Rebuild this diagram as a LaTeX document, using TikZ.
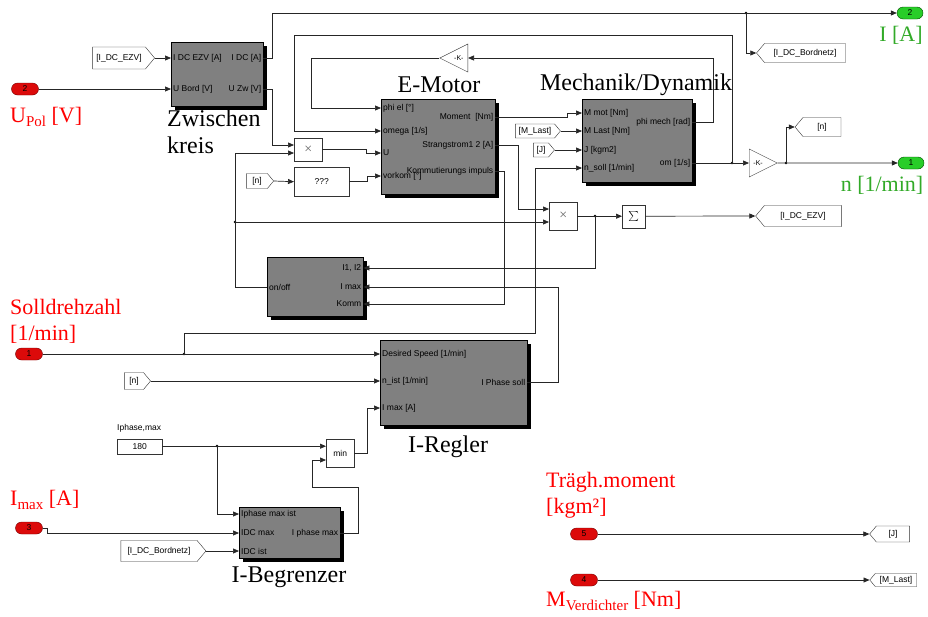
\documentclass[tikz,border=0pt]{standalone}
\usepackage{fontspec}
\setmainfont{Liberation Serif}
\newfontfamily\simfont{Liberation Sans}
\usetikzlibrary{positioning, arrows.meta, calc, shapes.misc, shapes.symbols, shapes.geometric, shadows}
\definecolor{blkgray}{RGB}{128,128,128}
\definecolor{inred}{RGB}{220,10,10}
\definecolor{outgreen}{RGB}{40,205,40}
\definecolor{lblred}{RGB}{255,0,0}
\definecolor{lblgreen}{RGB}{50,170,40}
\newcommand\portL[4]{\node[portin] (#1) at (#2.west |- 0,#3) {#4};}
\newcommand\portR[4]{\node[portout] (#1) at (#2.east |- 0,#3) {#4};}
\newcommand\lowtxt[1]{\raisebox{-0.22em}{\fontsize{15}{15}\selectfont #1}}

\begin{document}
\begin{tikzpicture}[x=1pt, y=-1pt,
  every node/.style={font=\simfont\fontsize{8.5}{9}\selectfont},
  blk/.style={draw=black, fill=blkgray, anchor=north west, inner sep=0pt,
    drop shadow={shadow xshift=4pt, shadow yshift=-4pt, fill=black, opacity=1}},
  smallbox/.style={draw=black!80, fill=white, anchor=north west, inner sep=0pt},
  mulbox/.style={smallbox, text=black!60, font=\fontsize{14}{14}\selectfont},
  inp/.style={rounded rectangle, draw=red!45!black, fill=inred, minimum width=27pt, minimum height=12pt, inner sep=0pt},
  outp/.style={rounded rectangle, draw=green!30!black, fill=outgreen, minimum width=26pt, minimum height=12pt, inner sep=0pt},
  fromtag/.style={signal, signal to=east, signal pointer angle=100, draw=black!80, fill=white, inner sep=1pt},
  gototag/.style={signal, signal to=west, signal pointer angle=100, draw=black!80, fill=white, inner sep=1pt},
  gain/.style={isosceles triangle, isosceles triangle stretches, draw=black!80, fill=white, inner sep=0pt,
    minimum width=28pt, minimum height=28pt, font=\simfont\fontsize{7}{7}\selectfont},
  portin/.style={anchor=west, inner xsep=2pt, inner ysep=0pt},
  portout/.style={anchor=east, inner xsep=2pt, inner ysep=0pt},
  wire/.style={draw=black!85, line width=0.7pt, -{Triangle[length=6pt,width=5pt]}},
  dot/.style={circle, fill=black, inner sep=0pt, minimum size=2.6pt},
  big/.style={font=\fontsize{24}{27}\selectfont, inner sep=0pt},
  redlbl/.style={font=\fontsize{22}{26}\selectfont, text=lblred, inner sep=0pt, anchor=west, align=left},
  greenlbl/.style={font=\fontsize{22}{26}\selectfont, text=lblgreen, inner sep=0pt}
]
\useasboundingbox (0,0) rectangle (928,616);

\node[blk, minimum width=92pt, minimum height=64pt] (zk) at (171,42) {};
\portL{zk-a}{zk}{58}{I DC EZV [A]}
\portL{zk-b}{zk}{89}{U Bord [V]}
\portR{zk-c}{zk}{58}{I DC [A]}
\portR{zk-d}{zk}{89}{U Zw [V]}

\node[blk, minimum width=114pt, minimum height=95pt] (em) at (381,99) {};
\portL{em-a}{em}{108}{phi el [°]}
\portL{em-b}{em}{131}{omega [1/s]}
\portL{em-c}{em}{153}{U}
\portL{em-d}{em}{176}{vorkom [°]}
\portR{em-p}{em}{117}{Moment~~[Nm]}
\portR{em-q}{em}{145}{Strangstrom1 2 [A]}
\portR{em-r}{em}{171}{Kommutierungs impuls}

\node[blk, minimum width=110pt, minimum height=83pt] (mm) at (582,99) {};
\portL{mm-a}{mm}{113}{M mot [Nm]}
\portL{mm-b}{mm}{131}{M Last [Nm]}
\portL{mm-c}{mm}{150}{J [kgm2]}
\portL{mm-d}{mm}{168}{n\_soll [1/min]}
\portR{mm-p}{mm}{122}{phi mech [rad]}
\portR{mm-q}{mm}{163}{om [1/s]}

\node[blk, minimum width=96pt, minimum height=59pt] (oo) at (267,257) {};
\portR{oo-a}{oo}{268}{I1, I2}
\portR{oo-b}{oo}{287}{I max}
\portR{oo-c}{oo}{304}{Komm}
\portL{oo-o}{oo}{287}{on/off}

\node[blk, minimum width=147pt, minimum height=85pt] (ir) at (380,340) {};
\portL{ir-a}{ir}{354}{Desired Speed [1/min]}
\portL{ir-b}{ir}{381}{n\_ist [1/min]}
\portL{ir-c}{ir}{408}{I max [A]}
\portR{ir-o}{ir}{382}{I Phase soll}

\node[blk, minimum width=101pt, minimum height=51pt] (ib) at (239,507) {};
\portL{ib-a}{ib}{514}{Iphase max ist}
\portL{ib-b}{ib}{533}{IDC max}
\portL{ib-c}{ib}{551}{IDC ist}
\portR{ib-o}{ib}{533}{I phase max}

\node[mulbox, minimum width=28pt, minimum height=23pt] (mul1) at (294,138) {×};
\node[smallbox, minimum width=55pt, minimum height=29pt] (qqq) at (294,167) {???};
\node[mulbox, minimum width=28pt, minimum height=28pt] (mul2) at (549,202) {×};
\node[smallbox, minimum width=23pt, minimum height=23pt, font=\fontsize{12}{12}\selectfont] (sum) at (622,204.5) {$\sum$};
\node[smallbox, minimum width=28pt, minimum height=28pt] (mn) at (326,439) {min};
\node[smallbox, minimum width=45pt, minimum height=15pt] (c180) at (117,438.5) {180};
\node[anchor=west, inner sep=0pt] (c180lbl) at (117,428) {Iphase,max};

\node[gain, shape border rotate=180, anchor=east] (k1) at (468,58) {-K-};
\node[gain, anchor=west] (k2) at (749,163) {-K-};

\node[inp] (in1) at (29,354) {1};
\node[inp] (in2) at (25,89) {2};
\node[inp] (in3) at (29,528) {3};
\node[inp] (in4) at (584,580) {4};
\node[inp] (in5) at (584,534) {5};
\node[outp] (out1) at (911,163) {1};
\node[outp] (out2) at (910,13) {2};

\node[fromtag, minimum width=62pt, minimum height=22pt] (fEZV) at (119,58) {[I\_DC\_EZV]};
\node[fromtag, minimum width=27pt, minimum height=15pt] (fn1) at (257,181) {[n]};
\node[fromtag, minimum width=45pt, minimum height=14pt] (fML) at (535,131) {[M\_Last]};
\node[fromtag, minimum width=21pt, minimum height=14pt] (fJ) at (541,150) {[J]};
\node[fromtag, minimum width=26pt, minimum height=17pt] (fn2) at (134,381) {[n]};
\node[fromtag, minimum width=85pt, minimum height=21pt] (fBord) at (159,551) {[I\_DC\_Bordnetz]};
\node[gototag, minimum width=89pt, minimum height=19pt] (gBord) at (805,53) {[I\_DC\_Bordnetz]};
\node[gototag, minimum width=46pt, minimum height=19pt] (gN) at (822,127) {[n]};
\node[gototag, minimum width=86pt, minimum height=21pt] (gEZV) at (803,216) {[I\_DC\_EZV]};
\node[gototag, minimum width=40pt, minimum height=16pt] (gJ) at (893,534) {[J]};
\node[gototag, minimum width=47pt, minimum height=13pt] (gML) at (896,580) {[M\_Last]};

\node[dot] (jtop) at (746,13) {};
\node[dot] (jom) at (732,163) {};
\node[dot] (jn) at (786,163) {};
\node[dot] (joo) at (235,222) {};
\node[dot] (js) at (595,216) {};
\node[dot] (jsd) at (184,354) {};
\node[dot] (jc) at (217,446) {};

\draw[wire] (fEZV.east) -- (zk-a.west);
\draw[wire] (in2.east) -- (zk-b.west);
\draw[wire] (zk-c.east) -- ++(9,0) |- (out2.west);
\draw[wire] (jtop.center) |- (gBord.west);
\draw[wire] (zk-d.east) -- ++(9,0) |- (mul1.west |- 0,145);
\draw[wire] (mul1.east) -- ++(44,0) |- (em-c.west);
\draw[wire] (fn1.east) -- (qqq.west);
\draw[wire] (qqq.east) -- ++(18,0) |- (em-d.west);
\draw[wire] (mm-p.east) -- ++(21,0) |- (k1.east);
\draw[wire] (k1.west) -- ++(-128,0) |- (em-a.west);
\draw[wire] (mm-q.east) -- (k2.west);
\draw[wire] (jom.center) |- (294,35) |- (em-b.west);
\draw[wire] (k2.east) -- (out1.west);
\draw[wire] (jn.center) |- (gN.west);
\draw[wire] (em-p.east) -- ++(72,0) |- (mm-a.west);
\draw[wire] (fML.east) -- (mm-b.west);
\draw[wire] (fJ.east) -- (mm-c.west);
\draw[wire] (em-q.east) -- ++(23,0) |- (mul2.west |- 0,209);
\draw[wire] (em-r.east) -- ++(9,0) |- (oo-c.east);
\draw[wire] (oo-o.west) -- ++(-32,0) |- (mul1.west |- 0,153);
\draw[wire] (joo.center) -- (mul2.west |- joo);
\draw[wire] (mul2.east) -- (sum.west);
\draw[wire] (js.center) |- (oo-a.east);
\draw[wire] (sum.east) -- (gEZV.west);
\draw[wire] (ir-o.east) -- ++(31,0) |- (oo-b.east);
\draw[wire] (in1.east) -- (ir-a.west);
\draw[wire] (jsd.center) |- (535,333) |- (mm-d.west);
\draw[wire] (fn2.east) -- (ir-b.west);
\draw[wire] (c180.east) -- (mn.west |- c180.east);
\draw[wire] (jc.center) |- (ib-a.west);
\draw[wire] (mn.east) -- ++(13,0) |- (ir-c.west);
\draw[wire] (ib-o.east) -- ++(18,0) |- (312,487) |- (mn.west |- 0,460);
\draw[wire] (in3.east) -- ++(5,0) |- (ib-b.west);
\draw[wire] (fBord.east) -- (ib-c.west);
\draw[wire] (in5.east) -- (gJ.west);
\draw[wire] (in4.east) -- (gML.west);

\node[big, anchor=north west, align=left] (lzk) at (167,110) {Zwischen\\kreis};
\node[big] (lem) at (439,85) {E-Motor};
\node[big] (lmm) at (636,85) {Mechanik/Dynamik};
\node[big] (lir) at (448,447) {I-Regler};
\node[big] (lib) at (289,577) {I-Begrenzer};
\node[redlbl] (lupol) at (10,117) {U\lowtxt{Pol} [V]};
\node[redlbl] (lsoll) at (10,321) {Solldrehzahl\\{}[1/min]};
\node[redlbl] (limax) at (10,500) {I\lowtxt{max} [A]};
\node[redlbl] (ltraeg) at (546,495) {Trägh.moment\\{}[kgm²]};
\node[redlbl] (lmverd) at (546,601) {M\lowtxt{Verdichter} [Nm]};
\node[greenlbl] (li) at (901,35) {I [A]};
\node[greenlbl] (ln) at (882,185) {n [1/min]};
\end{tikzpicture}
\end{document}
